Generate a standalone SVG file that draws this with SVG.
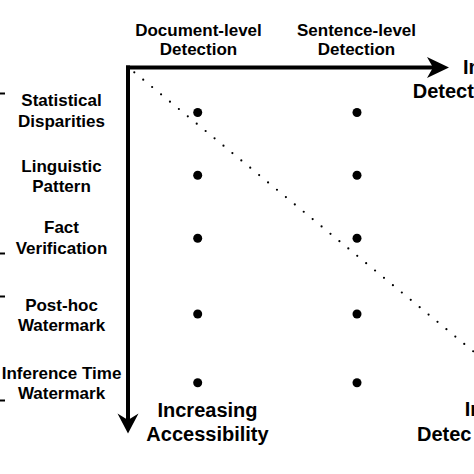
<svg xmlns="http://www.w3.org/2000/svg" width="474" height="474" viewBox="0 0 474 474">
<style>
text{font-family:"Liberation Sans",Arial,sans-serif;font-weight:bold;fill:#000}
.s{font-size:17px;text-anchor:middle}
.b{font-size:20px}
.bm{font-size:20px;text-anchor:middle}
.dot{fill:#000}
.axis{stroke:#000;stroke-width:4;fill:none}
.tick{stroke:#000;stroke-width:2}
</style>
<rect width="474" height="474" fill="#fff"/>
<g id="connectors">
<line class="axis" x1="126" y1="67.5" x2="434" y2="67.5"/>
<polygon points="449,67.5 427,57 433,67.5 427,78" fill="#000"/>
<line class="axis" x1="128" y1="65.5" x2="128" y2="421"/>
<polygon points="128,433.5 117.5,413.5 128,420 138.5,413.5" fill="#000"/>
<line x1="134.3" y1="72.3" x2="482" y2="358.5" stroke="#000" stroke-width="2.2" stroke-linecap="round" stroke-dasharray="0 11.55"/>
<line class="tick" x1="0" y1="93.5" x2="5" y2="93.5"/>
<line class="tick" x1="0" y1="253.5" x2="5" y2="253.5"/>
<line class="tick" x1="0" y1="296.5" x2="5" y2="296.5"/>
<line class="tick" x1="0" y1="400.5" x2="5" y2="400.5"/>
</g>
<g id="col-document">
<text class="s" x="198.5" y="35.5">Document-level</text>
<text class="s" x="198.5" y="55">Detection</text>
</g>
<g id="col-sentence">
<text class="s" x="356.5" y="35.5">Sentence-level</text>
<text class="s" x="356.5" y="55">Detection</text>
</g>
<g id="axis-x-label">
<text class="b" x="463" y="74">In</text>
<text class="b" x="412.7" y="98">Detect</text>
</g>
<g id="axis-y-label">
<text class="bm" x="207.5" y="417">Increasing</text>
<text class="bm" x="207.5" y="441">Accessibility</text>
</g>
<g id="axis-diag-label">
<text class="b" x="464.7" y="416">In</text>
<text class="b" x="417" y="441">Detec</text>
</g>
<g id="row-statistical">
<text class="s" x="61.5" y="106">Statistical</text>
<text class="s" x="61.5" y="126.5">Disparities</text>
<circle class="dot" cx="197.7" cy="112.5" r="4.5"/>
<circle class="dot" cx="357" cy="112.5" r="4.5"/>
</g>
<g id="row-linguistic">
<text class="s" x="61.5" y="171.5">Linguistic</text>
<text class="s" x="61.5" y="192">Pattern</text>
<circle class="dot" cx="197.7" cy="175.3" r="4.5"/>
<circle class="dot" cx="357" cy="175.3" r="4.5"/>
</g>
<g id="row-fact">
<text class="s" x="61.5" y="233.3">Fact</text>
<text class="s" x="61.5" y="254">Verification</text>
<circle class="dot" cx="197.7" cy="238.3" r="4.5"/>
<circle class="dot" cx="357" cy="238.3" r="4.5"/>
</g>
<g id="row-posthoc">
<text class="s" x="61.5" y="310.5">Post-hoc</text>
<text class="s" x="61.5" y="331">Watermark</text>
<circle class="dot" cx="197.7" cy="314" r="4.5"/>
<circle class="dot" cx="357" cy="314" r="4.5"/>
</g>
<g id="row-inference">
<text class="s" x="61.5" y="379.3">Inference Time</text>
<text class="s" x="61.5" y="399.3">Watermark</text>
<circle class="dot" cx="197.7" cy="382.7" r="4.5"/>
<circle class="dot" cx="357" cy="382.7" r="4.5"/>
</g>
</svg>
